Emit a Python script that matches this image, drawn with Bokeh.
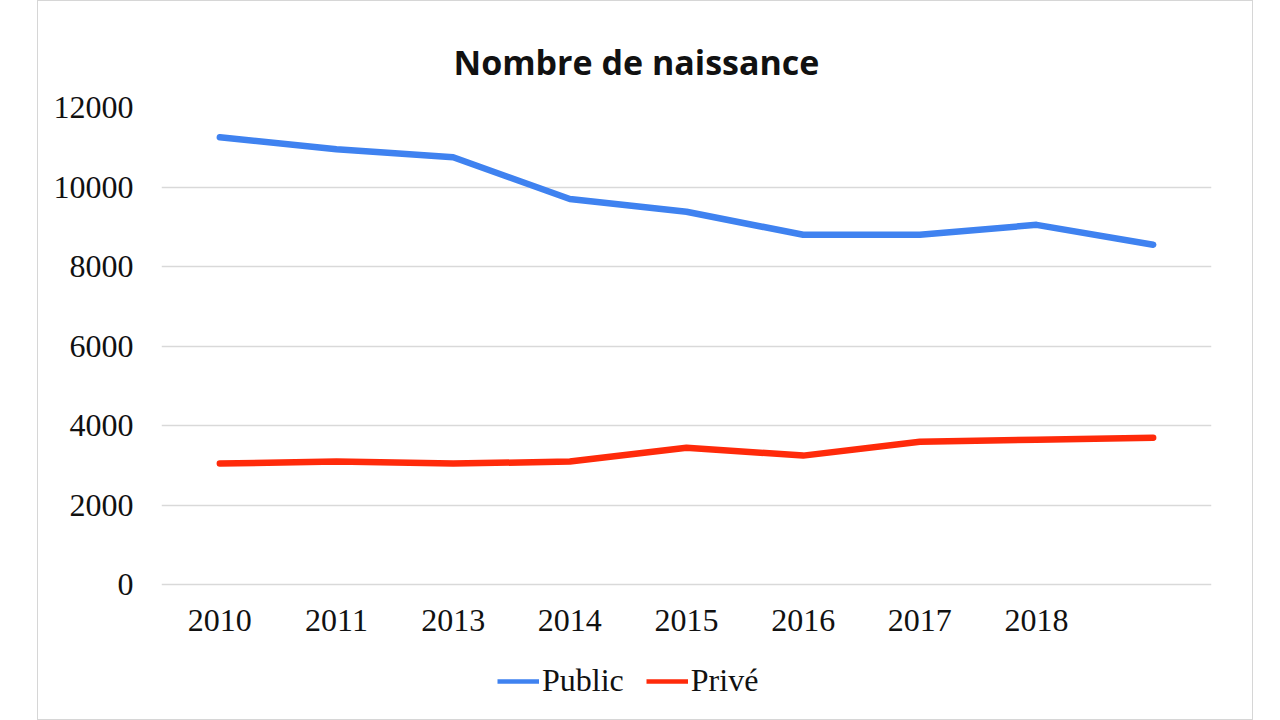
from bokeh.plotting import figure
from bokeh.models import Range1d, FactorRange, Legend, LegendItem, Spacer
from bokeh.layouts import row, column
from bokeh.embed import file_html
from bokeh.resources import INLINE

# Data
years = ["2010", "2011", "2013", "2014", "2015", "2016", "2017", "2018", " "]
public = [11250, 10950, 10750, 9700, 9380, 8800, 8800, 9050, 8550]
prive = [3050, 3100, 3050, 3100, 3450, 3250, 3600, 3650, 3700]
y_ticks = [0, 2000, 4000, 6000, 8000, 10000, 12000]
series_names = ["Public", "Privé"]
series_values = [public, prive]
series_colors = ["#3f82f0", "#ff2a0a"]

p = figure(width=1214, height=650, output_backend="svg", toolbar_location=None,
           x_range=FactorRange(factors=years, range_padding=0),
           y_range=Range1d(-40, 12000),
           min_border_left=123, min_border_right=41, min_border_top=106, min_border_bottom=65)

p.title.text = "Nombre de naissance"
p.title.align = "left"
p.title.vertical_align = "top"
p.title.offset = 292
p.title.standoff = 41
p.title.text_font = "Open Sans"
p.title.text_font_size = "34px"
p.title.text_font_style = "bold"
p.title.text_color = "#111111"

p.outline_line_color = None
p.xgrid.grid_line_color = None
p.ygrid.grid_line_color = "#d9d9d9"
p.ygrid.grid_line_width = 1.5
p.yaxis.ticker = y_ticks

for ax in (p.xaxis[0], p.yaxis[0]):
    ax.axis_line_color = None
    ax.major_tick_line_color = None
    ax.minor_tick_line_color = None
    ax.major_label_text_font = "Liberation Serif"
    ax.major_label_text_font_size = "32px"
    ax.major_label_text_color = "#111111"
p.yaxis.major_label_standoff = 22
p.xaxis.major_label_standoff = 9

for vals, col in zip(series_values, series_colors):
    p.line(years, vals, line_color=col, line_width=6.5, line_join="round", line_cap="round")

# legend strip below the chart (its lines lie outside the visible range; only the legend shows)
p2 = figure(width=1214, height=68, output_backend="svg", toolbar_location=None,
            x_range=FactorRange(factors=years), y_range=Range1d(-200000, -199999),
            x_axis_location=None, y_axis_location=None,
            min_border_left=0, min_border_right=0, min_border_top=0, min_border_bottom=0)
p2.grid.visible = False
p2.outline_line_color = None
items = []
for name, vals, col in zip(series_names, series_values, series_colors):
    r = p2.line(years, vals, line_color=col, line_width=4.5)
    items.append(LegendItem(label=name, renderers=[r]))
legend = Legend(items=items, orientation="horizontal", location=(336, 20),
                label_text_font="Liberation Serif", label_text_font_size="32px",
                label_text_color="#111111",
                glyph_width=42, label_standoff=3, spacing=22, padding=0, margin=0,
                border_line_color=None, background_fill_alpha=0)
p2.add_layout(legend)

chart = column(p, p2, spacing=0)
chart.styles = {"border": "1px solid #d6d6d6"}
layout = row(Spacer(width=37), chart)
open("out.html", "w").write(file_html(layout, INLINE))
